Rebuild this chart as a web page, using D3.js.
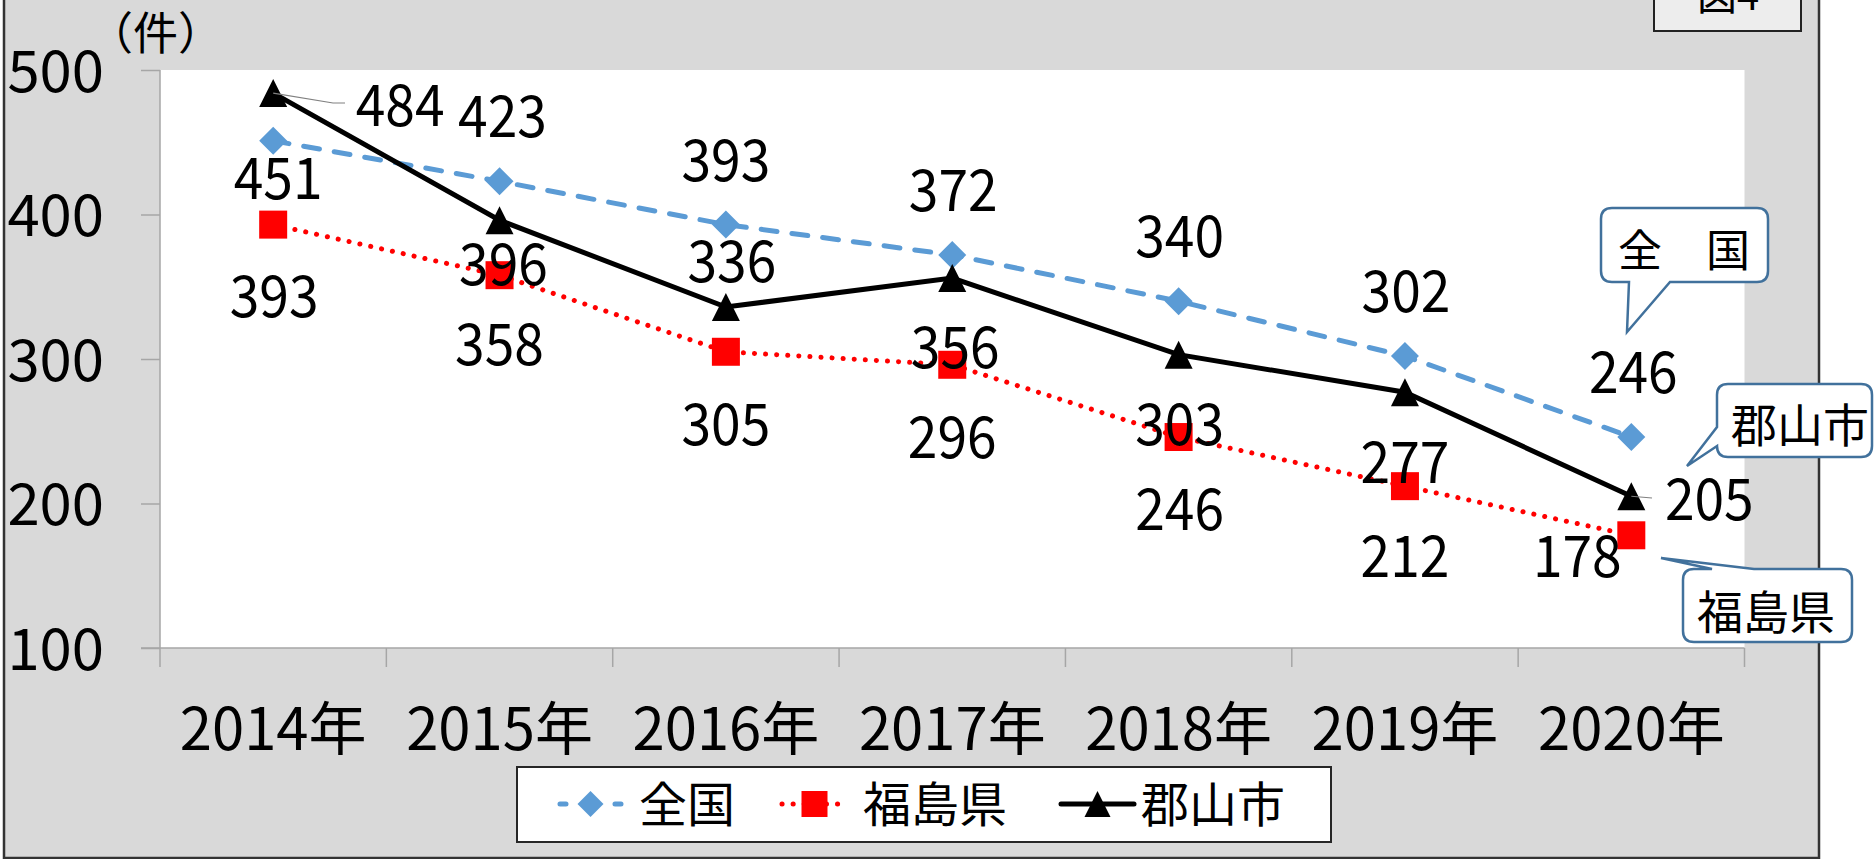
<!DOCTYPE html>
<html>
<head>
<meta charset="utf-8">
<script src="https://cdn.jsdelivr.net/npm/d3@7"></script>
<style>
  body { margin: 0; background: #fff; }
  text { font-family: "Noto Sans CJK JP", sans-serif; fill: #000; }
</style>
</head>
<body>
<script>
// データ
var years = ["2014年", "2015年", "2016年", "2017年", "2018年", "2019年", "2020年"];
var zenkoku = [451, 423, 393, 372, 340, 302, 246];
var fukushima = [393, 358, 305, 296, 246, 212, 178];
var koriyama = [484, 396, 336, 356, 303, 277, 205];
var seriesNames = ["全国", "福島県", "郡山市"];
var yTicks = [100, 200, 300, 400, 500];

// ラベル位置 (点からのずれ)
var zenkokuLab = [[5, 58], [3, -44], [0, -44], [1, -44], [1, -44], [1, -44], [2, -44]];
var fukushimaLab = [[1, 92], [0, 90], [0, 93], [0, 93], [1, 93], [0, 91], [-54, 42]];
var koriyamaLab = [[127, 33], [4, 65], [6, -25], [3, 90], [1, 90], [0, 91], [78, 24]];

var W = 1874, H = 859;
var svg = d3.select("body").append("svg")
  .attr("width", W).attr("height", H);

// 外枠
svg.append("rect").attr("x", 4).attr("y", -10).attr("width", 1815).attr("height", 868)
  .attr("fill", "#d9d9d9").attr("stroke", "#333").attr("stroke-width", 2.5);

// 図4
svg.append("rect").attr("x", 1654).attr("y", -20).attr("width", 147).attr("height", 51)
  .attr("fill", "#ededed").attr("stroke", "#222").attr("stroke-width", 2);
svg.append("text").attr("x", 1728).attr("y", 10).attr("text-anchor", "middle")
  .attr("font-size", 40).text("図4");

// スケール
var x = d3.scaleBand().domain(years).range([160, 1744.5]).padding(0);
var y = d3.scaleLinear().domain([100, 500]).range([648, 70]);
var cx = function(i) { return x(years[i]) + x.bandwidth() / 2; };

// プロットエリア
svg.append("rect").attr("x", 160).attr("y", 70)
  .attr("width", 1744.5 - 160).attr("height", 648 - 70).attr("fill", "#fff");

// y軸
var yAxis = d3.axisLeft(y).tickValues(yTicks).tickSize(19).tickPadding(37);
var gy = svg.append("g").attr("transform", "translate(160,0)").call(yAxis);
gy.select(".domain").attr("stroke", "#a6a6a6").attr("stroke-width", 1.5).attr("d", "M0,70V648");
gy.selectAll(".tick line").attr("stroke", "#a6a6a6").attr("stroke-width", 1.5);
gy.selectAll(".tick text").attr("font-size", 58).attr("dy", 21).attr("fill", "#000")
  .style("font-family", "'Noto Sans CJK JP', sans-serif");

// x軸
var xAxis = d3.axisBottom(x).tickSize(0).tickPadding(0);
var gx = svg.append("g").attr("transform", "translate(0,648)").call(xAxis);
gx.select(".domain").attr("stroke", "#a6a6a6").attr("stroke-width", 1.5).attr("d", "M141,0H1744.5");
gx.selectAll(".tick text").attr("font-size", 58).attr("y", 102).attr("dy", 0).attr("fill", "#000")
  .style("font-family", "'Noto Sans CJK JP', sans-serif");
var bounds = years.map(function(d) { return x(d); }).concat([x.range()[1]]);
svg.append("g").selectAll("line").data(bounds).join("line")
  .attr("x1", function(d) { return d; }).attr("x2", function(d) { return d; })
  .attr("y1", 648).attr("y2", 667)
  .attr("stroke", "#a6a6a6").attr("stroke-width", 1.5);

// 単位
svg.append("text").attr("x", 88).attr("y", 50).attr("font-size", 45).text("（件）");

// 系列
var line = d3.line().x(function(d, i) { return cx(i); }).y(function(d) { return y(d); });

function diamond(px, py, r) { return "M" + px + "," + (py - r) + "l" + r + "," + r + "l" + (-r) + "," + r + "l" + (-r) + "," + (-r) + "z"; }
function square(px, py, r) { return "M" + (px - r) + "," + (py - r) + "h" + 2 * r + "v" + 2 * r + "h" + (-2 * r) + "z"; }
function triangle(px, py, r) { return "M" + px + "," + (py - r) + "L" + (px + r) + "," + (py + r) + "L" + (px - r) + "," + (py + r) + "z"; }

var series = [
  { name: seriesNames[0], values: zenkoku, color: "#5b9bd5", dash: "16 15", width: 5, marker: diamond, mcolor: "#5b9bd5" },
  { name: seriesNames[1], values: fukushima, color: "#ff0000", dash: "0.1 11", width: 5, marker: square, mcolor: "#ff0000" },
  { name: seriesNames[2], values: koriyama, color: "#000", dash: null, width: 5, marker: triangle, mcolor: "#000" }
];

series.forEach(function(s) {
  var g = svg.append("g");
  g.append("path").attr("d", line(s.values)).attr("fill", "none")
    .attr("stroke", s.color).attr("stroke-width", s.width)
    .attr("stroke-linecap", "round").attr("stroke-dasharray", s.dash);
  g.selectAll("path.m").data(s.values).join("path").attr("class", "m")
    .attr("d", function(d, i) { return s.marker(cx(i), y(d), 14); })
    .attr("fill", s.mcolor);
});

// 引出線
svg.append("path").attr("d", "M" + cx(0) + "," + y(koriyama[0]) + "L333,103H345")
  .attr("fill", "none").attr("stroke", "#808080").attr("stroke-width", 1.2);
svg.append("path").attr("d", "M" + cx(6) + "," + y(koriyama[6]) + "L1652,498")
  .attr("fill", "none").attr("stroke", "#808080").attr("stroke-width", 1.2);

// データラベル
function labels(vals, pos) {
  svg.append("g").selectAll("text").data(vals).join("text")
    .attr("transform", function(d, i) {
      return "translate(" + (cx(i) + pos[i][0]) + "," + (y(d) + pos[i][1]) + ") scale(0.92,1)";
    })
    .attr("text-anchor", "middle").attr("font-size", 58)
    .text(function(d) { return d; });
}
labels(zenkoku, zenkokuLab);
labels(fukushima, fukushimaLab);
labels(koriyama, koriyamaLab);

// 吹き出し
function rr(x0, y0, x1, y1, r) {
  return {
    tl: "M" + (x0 + r) + "," + y0,
    tr: "Q" + x1 + "," + y0 + " " + x1 + "," + (y0 + r),
    br: "Q" + x1 + "," + y1 + " " + (x1 - r) + "," + y1,
    bl: "Q" + x0 + "," + y1 + " " + x0 + "," + (y1 - r),
    tl2: "Q" + x0 + "," + y0 + " " + (x0 + r) + "," + y0
  };
}
var callouts = svg.append("g").attr("fill", "#fff").attr("stroke", "#41719c").attr("stroke-width", 2.5);
// 全国
var c = rr(1601, 208, 1768, 282, 11);
callouts.append("path").attr("d", c.tl + "H1757" + c.tr + "V271" + c.br + "H1670L1627,332L1629,282H1612" + c.bl + "V219" + c.tl2 + "Z");
// 郡山市
c = rr(1717, 384, 1872, 457, 11);
callouts.append("path").attr("d", c.tl + "H1861" + c.tr + "V446" + c.br + "H1728" + c.bl + "L1687,466L1717,427V395" + c.tl2 + "Z");
// 福島県
c = rr(1683, 569, 1852, 642, 11);
callouts.append("path").attr("d", c.tl + "H1712L1661,558L1754,569H1841" + c.tr + "V631" + c.br + "H1694" + c.bl + "V580" + c.tl2 + "Z");

svg.append("text").attr("x", 1684).attr("y", 267).attr("text-anchor", "middle").attr("font-size", 44).text("全　国");
svg.append("text").attr("x", 1800).attr("y", 442).attr("text-anchor", "middle").attr("font-size", 46).text(seriesNames[2]);
svg.append("text").attr("x", 1766).attr("y", 629).attr("text-anchor", "middle").attr("font-size", 46).text(seriesNames[1]);

// 凡例
var leg = svg.append("g");
leg.append("rect").attr("x", 517).attr("y", 767).attr("width", 814).attr("height", 75)
  .attr("fill", "#fff").attr("stroke", "#262626").attr("stroke-width", 2);
var legItems = [
  { s: series[0], x0: 560, x1: 621, tx: 639 },
  { s: series[1], x0: 782, x1: 847, tx: 863 },
  { s: series[2], x0: 1061, x1: 1134, tx: 1141 }
];
legItems.forEach(function(it) {
  var my = 804, mx = (it.x0 + it.x1) / 2;
  leg.append("line").attr("x1", it.x0).attr("x2", it.x1).attr("y1", my).attr("y2", my)
    .attr("stroke", it.s.color).attr("stroke-width", it.s.width)
    .attr("stroke-linecap", "round").attr("stroke-dasharray", it.s.dash ? (it.s.dash === "16 15" ? "6 49" : "0.1 11") : null);
  leg.append("path").attr("d", it.s.marker(mx, my, 13)).attr("fill", it.s.mcolor);
  leg.append("text").attr("x", it.tx).attr("y", 822).attr("font-size", 48).text(it.s.name);
});

// 右側の余白 (白)
svg.append("rect").attr("x", 1820).attr("y", 0).attr("width", 54).attr("height", H).attr("fill", "#fff").lower();
</script>
</body>
</html>
